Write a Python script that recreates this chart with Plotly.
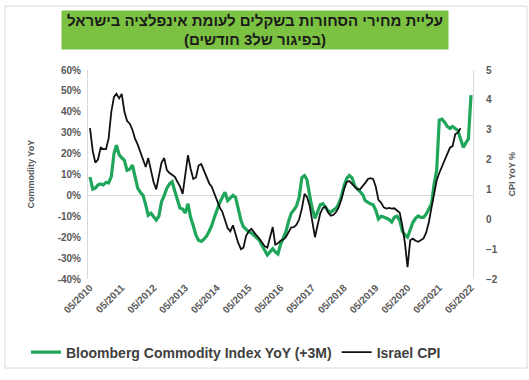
import pandas as pd
import plotly.graph_objects as go

# Monthly observations, May 2010 onwards
commodity_months = pd.date_range("2010-05-01", periods=145, freq="MS")
cpi_months = pd.date_range("2010-05-01", periods=141, freq="MS")

# Bloomberg Commodity Index YoY, shifted forward 3 months (%)
commodity_yoy = [
    8.8, 3, 3.5, 5, 5.5, 5, 6.2, 6, 9, 20,
    24, 19.5, 18, 16.8, 12, 12.5, 14.5, 8.8, 3.5, 1.5,
    0, -4.5, -9.5, -8.5, -10, -11.8, -10, -3, 0, 3.5,
    5.5, 6.5, 2, -2.5, -6, -6.5, -8.5, -4, -10.5, -14.5,
    -19, -21.5, -22, -21, -19.5, -17, -14.5, -10.5, -6.5, -3.5,
    -1, 1.5, -2.5, -1, 0, -1, -6.5, -12, -15, -16.5,
    -17.5, -18, -19, -20, -21.5, -24, -26.5, -28.5, -27, -25.5,
    -27, -28, -23.5, -20, -17.5, -12.5, -8.5, -7, -5, -1,
    8.5, 9.5, 7.5, 0, -6.5, -11, -7.5, -4.5, -4, -5.5,
    -7.5, -8, -7, -6, -4, -0.5, 4.5, 8, 9.5, 8.5,
    4.5, 3, 1.8, 0.5, -2.5, -3.5, -4, -4.5, -7, -11.3,
    -10, -10.3, -10.8, -11.5, -12.8,
    -10.5, -10, -12, -17, -19, -20, -16, -13, -11, -9.8,
    -10.5, -10.5, -9, -6.5, -4, 5, 12, 36, 36.5, 35,
    33, 32, 33, 32, 31, 27, 23, 25, 27, 48,
]

# Israel CPI YoY (%)
israel_cpi = [
    3.05, 2.3, 1.9, 2.0, 2.4, 2.35, 2.35, 2.7, 3.6, 4.1,
    4.2, 4.05, 4.2, 3.6, 3.3, 3.2, 3.0, 2.7, 2.5, 2.25,
    2.0, 1.75, 2.05, 1.65, 1.25, 1.0, 1.4, 1.9, 2.05, 1.65,
    1.55, 1.5, 1.42, 1.25, 1.1, 0.85, 1.5, 2.15, 1.7, 1.35,
    1.4, 1.8, 1.85, 1.65, 1.4, 1.2, 1.09, 0.85, 0.63, 0.4,
    0.25, -0.05, -0.3, -0.4, -0.2, -0.5, -0.8, -1.0, -0.95, -0.55,
    -0.4, -0.32, -0.45, -0.55, -0.65, -0.77, -0.9, -0.95, -0.62, -0.26,
    -0.85, -0.8, -0.72, -0.68, -0.6, -0.42, -0.27, -0.26, -0.18, 0.0,
    0.35, 0.85, 0.75, 0.45, -0.1, -0.6, -0.2, 0.2, 0.38, 0.42,
    0.22, 0.12, 0.15, 0.25, 0.4, 0.66, 1.0, 1.25, 1.28, 1.18,
    1.1, 1.0, 1.0, 1.1, 1.22, 1.35, 1.38, 1.35, 1.1, 0.65,
    0.56, 0.4, 0.36, 0.38, 0.36, 0.37, 0.3, 0.22, -0.2, -0.8,
    -1.6, -0.7, -0.65, -0.72, -0.75, -0.7, -0.64, -0.45, -0.1, 0.4,
    0.9, 1.3, 1.55, 1.78, 1.95, 2.2, 2.4, 2.45, 2.85, 2.9, 3.05,
]

tick_dates = pd.date_range("2010-05-01", "2022-05-01", freq="12MS")
tick_labels = [d.strftime("%m/%Y") for d in tick_dates]
left_ticks = [-40, -30, -20, -10, 0, 10, 20, 30, 40, 50, 60]
left_labels = [f"{v}%" for v in left_ticks]
right_ticks = [-2, -1, 0, 1, 2, 3, 4, 5]

title_line1 = "עליית מחירי הסחורות בשקלים לעומת אינפלציה בישראל"
title_line2 = "(בפיגור של3 חודשים)"

W, H = 529, 380
L, R, T, B = 88, 473, 70, 286


def px(x):
    return (x - L) / (R - L)


def py(y):
    return (B - y) / (B - T)


GREEN = "#1fa65a"
TXT = "#595959"
FONT = "Liberation Sans"

fig = go.Figure()
fig.add_trace(go.Scatter(
    x=commodity_months, y=commodity_yoy, mode="lines",
    name="Bloomberg Commodity Index YoY (+3M)",
    line=dict(color=GREEN, width=3.2), yaxis="y",
))
fig.add_trace(go.Scatter(
    x=cpi_months, y=israel_cpi, mode="lines",
    name="Israel CPI",
    line=dict(color="#111111", width=1.8), yaxis="y2",
))

fig.update_layout(
    width=W, height=H,
    margin=dict(l=L, r=W - R, t=T, b=H - B),
    paper_bgcolor="white", plot_bgcolor="white",
    font=dict(family=FONT, color=TXT),
    showlegend=True,
    legend=dict(
        orientation="h", x=px(26), y=py(362), xanchor="left", yanchor="middle",
        font=dict(size=14, family=FONT, color="#404040", weight="bold"),
        itemwidth=30, tracegroupgap=0, bgcolor="rgba(0,0,0,0)",
    ),
    xaxis=dict(
        type="date", range=["2010-04-08", "2022-05-24"],
        tickmode="array", tickvals=tick_dates, ticktext=tick_labels,
        tickangle=-45, tickfont=dict(size=10, color=TXT, weight="bold"),
        showgrid=False, zeroline=False, showline=False, ticks="",
    ),
    yaxis=dict(
        range=[-40, 60], tickmode="array", tickvals=left_ticks, ticktext=left_labels,
        tickfont=dict(size=10, color=TXT, weight="bold"), ticklabelstandoff=4,
        showgrid=False, zeroline=True, zerolinecolor="#d9d9d9", zerolinewidth=1,
        showline=True, linecolor="#d9d9d9", linewidth=1, ticks="",
    ),
    yaxis2=dict(
        range=[-2, 5], overlaying="y", side="right",
        tickmode="array", tickvals=right_ticks,
        tickfont=dict(size=10, color=TXT, weight="bold"), ticklabelstandoff=10,
        showgrid=False, zeroline=False,
        showline=True, linecolor="#d9d9d9", linewidth=1, ticks="",
    ),
)

# Outer chart frame
fig.add_shape(type="rect", xref="paper", yref="paper",
              x0=px(5), x1=px(527), y0=py(378), y1=py(4),
              line=dict(color="#d9d9d9", width=1), fillcolor="rgba(0,0,0,0)",
              layer="below")

# Title banner
fig.add_annotation(
    xref="paper", yref="paper", x=px(255), y=py(29),
    xanchor="center", yanchor="middle",
    text=f"<b>{title_line1}</b><br><b>{title_line2}</b>",
    showarrow=False, align="center",
    font=dict(size=15, family=FONT, color="#1a1a1a"),
    bgcolor="#7cc242", width=386, height=38, borderpad=0,
)

# Axis titles
fig.add_annotation(
    xref="paper", yref="paper", x=px(23), y=py(178),
    text="<b>Commodity YoY</b>", textangle=-90, showarrow=False,
    font=dict(size=9, family=FONT, color=TXT),
)
fig.add_annotation(
    xref="paper", yref="paper", x=px(518), y=py(178),
    text="<b>CPI YoY %</b>", textangle=-90, showarrow=False,
    font=dict(size=9, family=FONT, color=TXT),
)

fig.write_html("out.html")
